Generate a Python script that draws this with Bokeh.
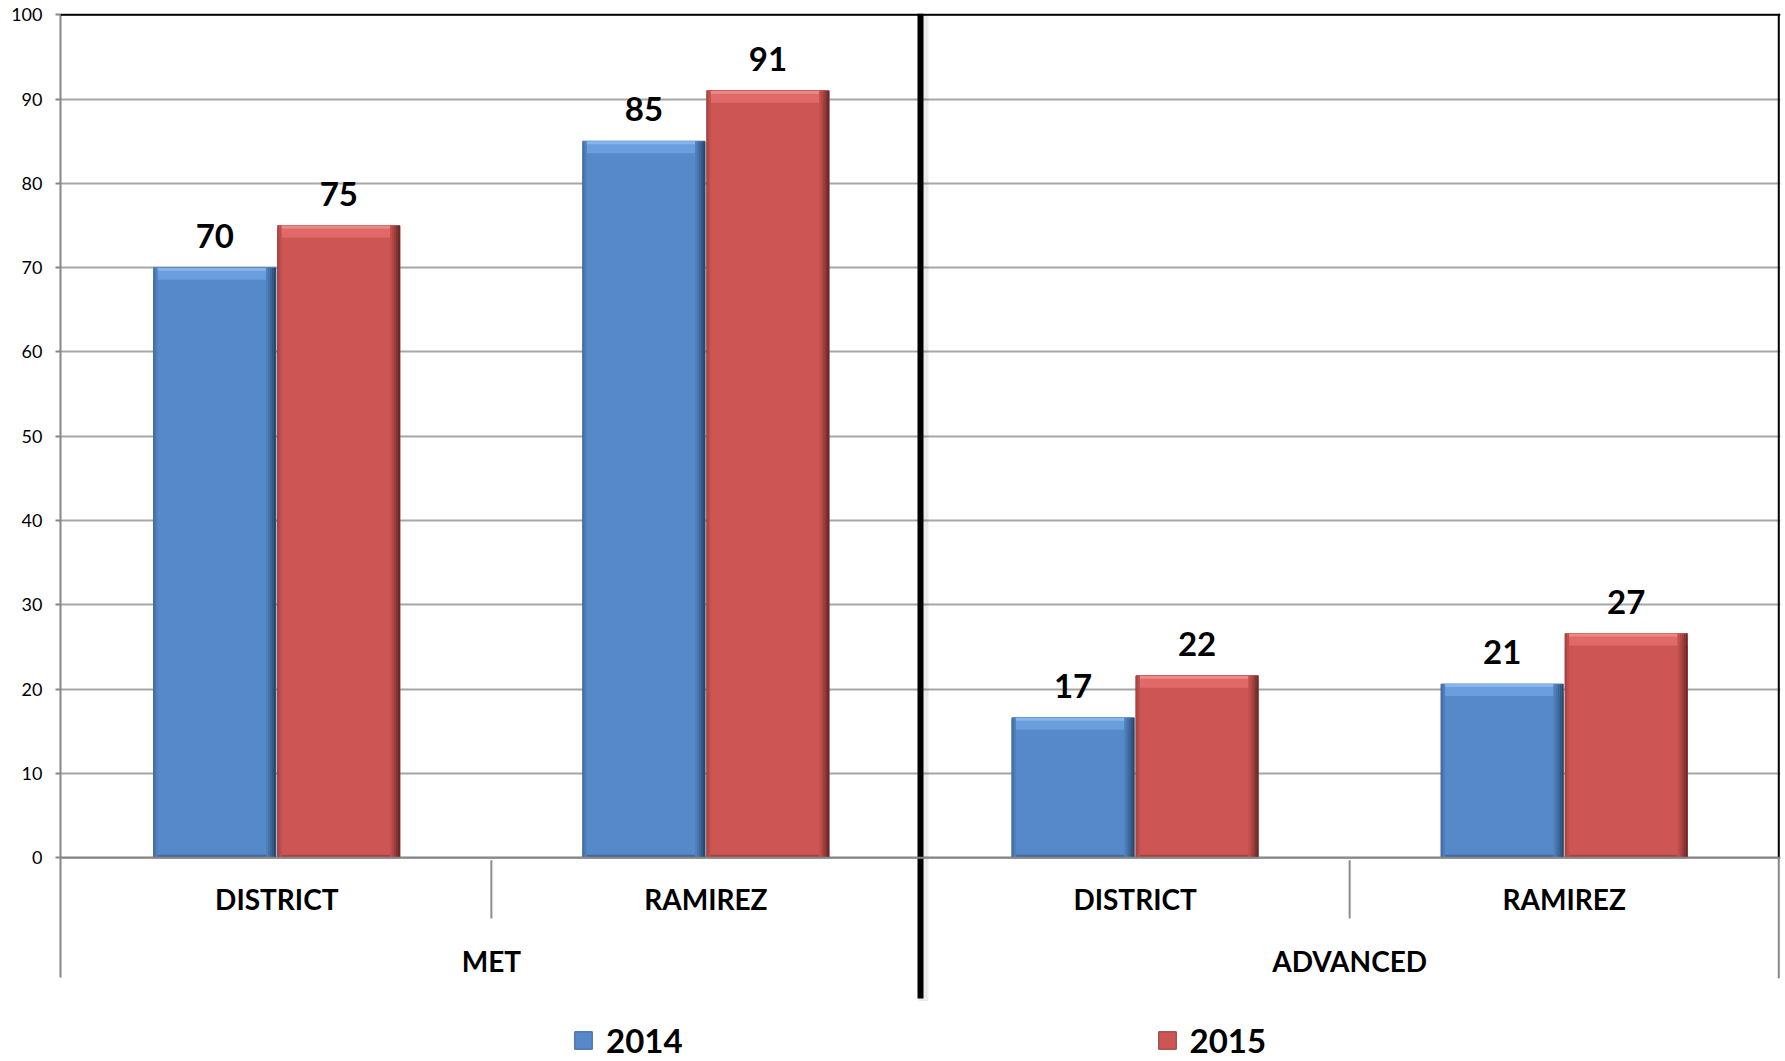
from bokeh.plotting import figure
from bokeh.models import (FactorRange, Range1d, FixedTicker, ColumnDataSource,
                          Legend, LegendItem, Span)
from bokeh.transform import dodge
from bokeh.core.properties import value
from bokeh.embed import file_html
from bokeh.resources import INLINE

# ---------------- data ----------------
groups = ["MET", "MET", "ADVANCED", "ADVANCED"]
schools = ["DISTRICT", "RAMIREZ", "DISTRICT", "RAMIREZ"]
group_names = ["MET", "ADVANCED"]
series_names = ["2014", "2015"]
values_2014 = [70, 85, 16.6, 20.6]
values_2015 = [75, 91, 21.6, 26.6]
labels_2014 = ["70", "85", "17", "21"]
labels_2015 = ["75", "91", "22", "27"]
y_ticks = [0, 10, 20, 30, 40, 50, 60, 70, 80, 90, 100]

factors = list(zip(groups, schools))

# ---------------- layout constants ----------------
W, H = 1784, 1061
B_L, B_T, B_R, B_B = 60, 13, 4, 0
Y_TOP = 100.15
PX_Y = 8.43                      # pixels per value unit
frame_h = H - B_T - B_B
Y_BOTTOM = Y_TOP - frame_h / PX_Y
PAD = 0.004
frame_w = W - B_L - B_R
PX_X = frame_w / (len(factors) + 2 * PAD)   # pixels per category unit

BAR_W = 0.285
OFF = [-0.1445, 0.1445]

x_range = FactorRange(*factors, factor_padding=0, group_padding=0,
                      range_padding=PAD, range_padding_units="absolute")

p = figure(x_range=x_range, y_range=Range1d(Y_BOTTOM, Y_TOP), width=W, height=H,
           output_backend="svg", toolbar_location=None, x_axis_location=None,
           min_border_left=B_L, min_border_top=B_T, min_border_right=B_R,
           min_border_bottom=B_B)
p.outline_line_color = None
p.background_fill_color = "white"
p.border_fill_color = "white"

yax = p.yaxis[0]
yax.ticker = FixedTicker(ticks=y_ticks)
yax.bounds = (-14.25, 100)
yax.axis_line_color = "#878787"
yax.axis_line_width = 2
yax.major_tick_out = 5
yax.major_tick_in = 0
yax.major_tick_line_color = "#878787"
yax.major_tick_line_width = 2
yax.minor_tick_line_color = None
yax.major_label_text_font = "Lato"
yax.major_label_text_font_size = "18px"
yax.major_label_text_color = "#000000"
yax.major_label_standoff = 13

p.ygrid.ticker = FixedTicker(ticks=y_ticks)
p.ygrid.grid_line_color = "#A6A6A6"
p.ygrid.grid_line_width = 2
p.xgrid.visible = False

hl = 12 / PX_Y
src = ColumnDataSource(dict(
    x=factors,
    v14=values_2014, v15=values_2015,
    l14=labels_2014, l15=labels_2015,
    h14=[v - hl for v in values_2014], h15=[v - hl for v in values_2015],
    t14=[v - 3 / PX_Y for v in values_2014], t15=[v - 3 / PX_Y for v in values_2015],
))

styles = {
    "2014": dict(base="#5589CA", edge="#3B6294", top="#86B4EE", band="#6A9EDD",
                 left=["#456FA6", "#4F7FBC"],
                 right=["#4F80BD", "#4674AA", "#3D6696", "#345781", "#2A486C"],
                 bottom="#44699C"),
    "2015": dict(base="#CD5654", edge="#8E3A38", top="#F08886", band="#E06A68",
                 left=["#A94543", "#BE4F4D"],
                 right=["#C4504E", "#B34745", "#9C3E3C", "#833432", "#682A28"],
                 bottom="#A84442"),
}

legend_renderers = []
for k, (name, fld, hfld, tfld, lfld) in enumerate(
        [("2014", "v14", "h14", "t14", "l14"), ("2015", "v15", "h15", "t15", "l15")]):
    st = styles[name]
    off = OFF[k]
    base = p.vbar(x=dodge("x", off, range=x_range), top=fld, bottom=0, width=BAR_W,
                  source=src, fill_color=st["base"], line_color=st["edge"], line_width=1)
    legend_renderers.append(base)
    # top bevel band
    p.vbar(x=dodge("x", off, range=x_range), top=fld, bottom=hfld, width=BAR_W,
           source=src, fill_color=st["band"], line_color=None)
    p.vbar(x=dodge("x", off, range=x_range), top=fld, bottom=tfld, width=BAR_W,
           source=src, fill_color=st["top"], line_color=None)
    # bottom shade
    p.vbar(x=dodge("x", off, range=x_range), top=3 / PX_Y, bottom=0, width=BAR_W,
           source=src, fill_color=st["bottom"], line_color=None)
    sw = 2 / PX_X
    # left edge
    for i, c in enumerate(st["left"]):
        xo = off - BAR_W / 2 + (i + 0.5) * sw
        p.vbar(x=dodge("x", xo, range=x_range), top=fld, bottom=0, width=sw,
               source=src, fill_color=c, line_color=None)
    # right edge shading
    n = len(st["right"])
    for i, c in enumerate(st["right"]):
        xo = off + BAR_W / 2 - (n - i - 0.5) * sw
        p.vbar(x=dodge("x", xo, range=x_range), top=fld, bottom=0, width=sw,
               source=src, fill_color=c, line_color=None)
    # value labels
    p.text(x=dodge("x", off, range=x_range), y=fld, text=lfld, source=src,
           text_font=value("Lato"), text_font_style="bold", text_font_size="33px",
           text_align="center", text_baseline="alphabetic", y_offset=-32,
           text_color="#000000")

# frame lines
p.add_layout(Span(location=100, dimension="width", line_color="#000000", line_width=2))
p.add_layout(Span(location=0, dimension="width", line_color="#878787", line_width=2))

# separators and borders below the plot area
sep_src = ColumnDataSource(dict(
    x=[(g, s, 0.5) for (g, s) in factors if s == "DISTRICT"],
))
p.segment(x0="x", y0=-0.3, x1="x", y1=-7.2, source=sep_src,
          line_color="#8C8C8C", line_width=2)

right_x = [(factors[-1][0], factors[-1][1], 0.5)]
p.segment(x0=right_x, y0=[0], x1=right_x, y1=[Y_TOP], line_color="#000000", line_width=2)
p.segment(x0=right_x, y0=[-14.3], x1=right_x, y1=[0], line_color="#878787", line_width=2)

mid_x = [(factors[1][0], factors[1][1], 0.5)]
mid_shadow = [(factors[1][0], factors[1][1], 0.5 + 3 / PX_X)]
p.segment(x0=mid_shadow, y0=[-17.0], x1=mid_shadow, y1=[Y_TOP], line_color="#000000",
          line_alpha=0.08, line_width=10)
p.segment(x0=mid_x, y0=[-16.7], x1=mid_x, y1=[Y_TOP], line_color="#000000", line_width=6)

# category labels
p.text(x=factors, y=-4.95, text=schools, text_font=value("Lato"),
       text_font_style="bold", text_font_size="28px", text_align="center",
       text_baseline="middle", text_color="#000000")
p.text(x=group_names, y=-12.2, text=group_names, text_font=value("Lato"),
       text_font_style="bold", text_font_size="28px", text_align="center",
       text_baseline="middle", text_color="#000000")

legend = Legend(items=[LegendItem(label=series_names[0], renderers=[legend_renderers[0]]),
                       LegendItem(label=series_names[1], renderers=[legend_renderers[1]])],
                location=(512, 1), orientation="horizontal", spacing=473,
                label_standoff=12, glyph_width=22, glyph_height=22,
                label_text_font="Lato", label_text_font_style="bold",
                label_text_font_size="33px", label_text_color="#000000",
                border_line_color=None,
                background_fill_alpha=0, padding=0, margin=0)
p.add_layout(legend)

open("out.html", "w").write(file_html(p, INLINE))
